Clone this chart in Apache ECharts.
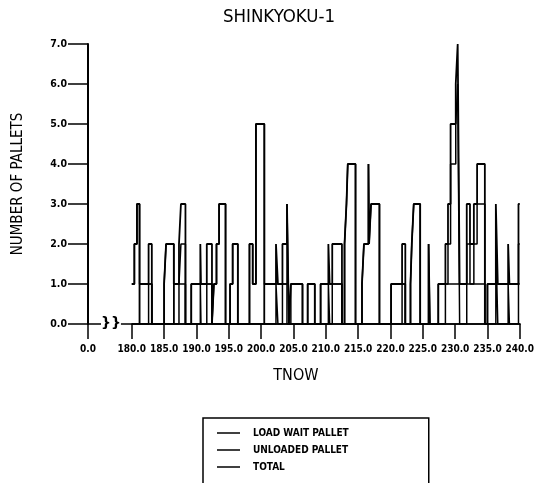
<!DOCTYPE html>
<html>
<head>
<meta charset="utf-8">
<script src="https://cdn.jsdelivr.net/npm/echarts@6/dist/echarts.min.js"></script>
<style>
html,body{margin:0;padding:0;background:#fff;}
#c{width:537px;height:483px;}
</style>
</head>
<body>
<div id="c"></div>
<script>
// ---- data (step change points: value holds from time until next time) ----
var seriesNames = ['LOAD WAIT PALLET', 'UNLOADED PALLET', 'TOTAL'];
var yTicks = [0, 1, 2, 3, 4, 5, 6, 7];

var loadWaitTimes  = [180.0,180.4,180.8,181.2,182.6,183.1,185.0,185.3,186.5,187.3,187.6,188.3,190.6,190.7,191.6,192.4,192.7,193.1,193.5,194.5,195.2,195.6,196.4,198.2,198.7,199.2,200.5,202.3,202.6,203.3,204.0,204.3,210.4,210.6,211.0,212.5,212.9,213.2,213.4,214.6,215.6,215.9,216.6,216.7,217.0,218.3,221.8,222.3,223.1,223.3,223.6,224.6,225.9,226.1,228.5,228.9,229.3,230.1,230.4,230.7,231.8,232.3,232.9,233.4,234.6,236.3,236.6,238.2,238.4,239.8,240.0];
var loadWaitValues = [1,2,3,0,1,0,1,2,0,1,2,0,1,0,1,0,1,2,3,0,1,2,0,2,1,5,0,1,0,1,3,0,1,0,1,0,2,3,4,0,1,2,4,2,3,0,1,0,1,2,3,0,2,0,1,2,4,5,6,0,2,1,2,3,0,2,0,1,0,2,2];

var unloadedTimes  = [180.0,181.2,183.1,186.5,188.3,189.2,192.4,200.5,204.0,204.6,206.4,207.2,208.3,209.2,212.5,220.1,222.3,227.4,234.6,235.0,240.0];
var unloadedValues = [0,1,0,1,0,1,0,1,0,1,0,1,0,1,0,1,0,1,0,1,1];

var totalTimes  = [180.0,180.4,180.8,181.2,182.6,183.1,185.0,185.3,186.5,187.3,187.6,188.3,189.2,190.6,190.7,191.6,192.4,192.7,193.1,193.5,194.5,195.2,195.6,196.4,198.2,198.7,199.2,200.5,202.3,202.6,203.3,204.0,204.3,204.6,206.4,207.2,208.3,209.2,210.4,210.6,211.0,212.5,212.9,213.2,213.4,214.6,215.6,215.9,216.6,216.7,217.0,218.3,220.1,221.8,222.3,223.1,223.3,223.6,224.6,225.9,226.1,227.4,228.5,228.9,229.3,230.1,230.4,230.7,231.8,232.3,232.9,233.4,234.6,235.0,236.3,236.6,238.2,238.4,239.8,240.0];
var totalValues = [1,2,3,1,2,0,1,2,1,2,3,0,1,2,1,2,0,1,2,3,0,1,2,0,2,1,5,1,2,1,2,3,0,1,0,1,0,1,2,1,2,0,2,3,4,0,1,2,4,2,3,0,1,2,0,1,2,3,0,2,0,1,2,3,5,6,7,1,3,2,3,4,0,1,3,1,2,1,3,3];

function pairs(t, v) { return t.map(function (x, i) { return [x, v[i]]; }); }

var FONT = '"DejaVu Sans Condensed", "DejaVu Sans", sans-serif';
var chart = echarts.init(document.getElementById('c'), null, {renderer: 'canvas'});

function stepSeries(name, data, w) {
  return {
    name: name, type: 'line', step: 'end', data: data, xAxisIndex: 0,
    symbol: 'none', silent: true, animation: false,
    lineStyle: {color: '#000', width: w}, itemStyle: {color: '#000'}
  };
}

chart.setOption({
  backgroundColor: '#fff',
  animation: false,
  title: {
    text: 'SHINKYOKU-1', left: 274, top: 3, textAlign: 'center',
    textStyle: {fontFamily: FONT, fontSize: 18.5, fontWeight: 'normal', color: '#000'}
  },
  grid: {left: 88, right: 15, top: 44, bottom: 159, containLabel: false},
  graphic: [
    {type: 'text', left: 101, top: 316, z: 20, silent: true,
     style: {text: '}}', font: 'bold 14px "DejaVu Sans"', fill: '#000', backgroundColor: '#fff'}}
  ],
  xAxis: [{
    type: 'value', min: 0, max: 240, interval: 5,
    breaks: [{start: 0, end: 180, gap: 6.77}],
    breakArea: {show: false},
    name: 'TNOW', nameLocation: 'middle', nameGap: 44,
    nameTextStyle: {fontFamily: FONT, fontSize: 16, color: '#000', padding: [0, 16, 0, 0]},
    axisLine: {show: true, onZero: false, lineStyle: {color: '#000', width: 1.5}},
    axisTick: {show: true, inside: false, length: 15, lineStyle: {color: '#000', width: 1.5}},
    axisLabel: {color: '#000', fontFamily: FONT, fontSize: 10, fontWeight: 'bold', margin: 20,
      formatter: function (v) { return v.toFixed(1); }},
    splitLine: {show: false}
  }, {
    // plain companion axis: draws the continuous baseline and the tick at 0
    type: 'value', min: 0, max: 240, interval: 240, position: 'bottom',
    axisLine: {show: true, onZero: false, lineStyle: {color: '#000', width: 1.5}},
    axisTick: {show: true, inside: false, length: 15, lineStyle: {color: '#000', width: 1.5}},
    axisLabel: {show: false}, splitLine: {show: false}
  }],
  yAxis: {
    type: 'value', min: 0, max: 7, interval: 1,
    name: 'NUMBER OF PALLETS', nameLocation: 'middle', nameGap: 62, nameRotate: 90,
    nameTextStyle: {fontFamily: FONT, fontSize: 15, color: '#000'},
    axisLine: {show: true, lineStyle: {color: '#000', width: 2}},
    axisTick: {show: true, inside: false, length: 20, lineStyle: {color: '#000', width: 1.5}},
    axisLabel: {color: '#000', fontFamily: FONT, fontSize: 10.5, fontWeight: 'bold', margin: 21,
      customValues: yTicks, formatter: function (v) { return v.toFixed(1); }},
    splitLine: {show: false}
  },
  legend: {
    orient: 'vertical', left: 203, top: 418, height: 120,
    padding: [9, 80, 30, 14], itemGap: 5,
    borderColor: '#000', borderWidth: 1.5,
    icon: 'rect', itemWidth: 23, itemHeight: 1.5,
    textStyle: {fontFamily: FONT, fontSize: 10, fontWeight: 'bold', color: '#000', lineHeight: 12, padding: [0, 0, 0, 8]},
    inactiveColor: '#000',
    data: seriesNames
  },
  series: [
    stepSeries(seriesNames[0], pairs(loadWaitTimes, loadWaitValues), 1.5),
    stepSeries(seriesNames[1], pairs(unloadedTimes, unloadedValues), 1.5),
    stepSeries(seriesNames[2], pairs(totalTimes, totalValues), 1.8)
  ]
});
</script>
</body>
</html>
